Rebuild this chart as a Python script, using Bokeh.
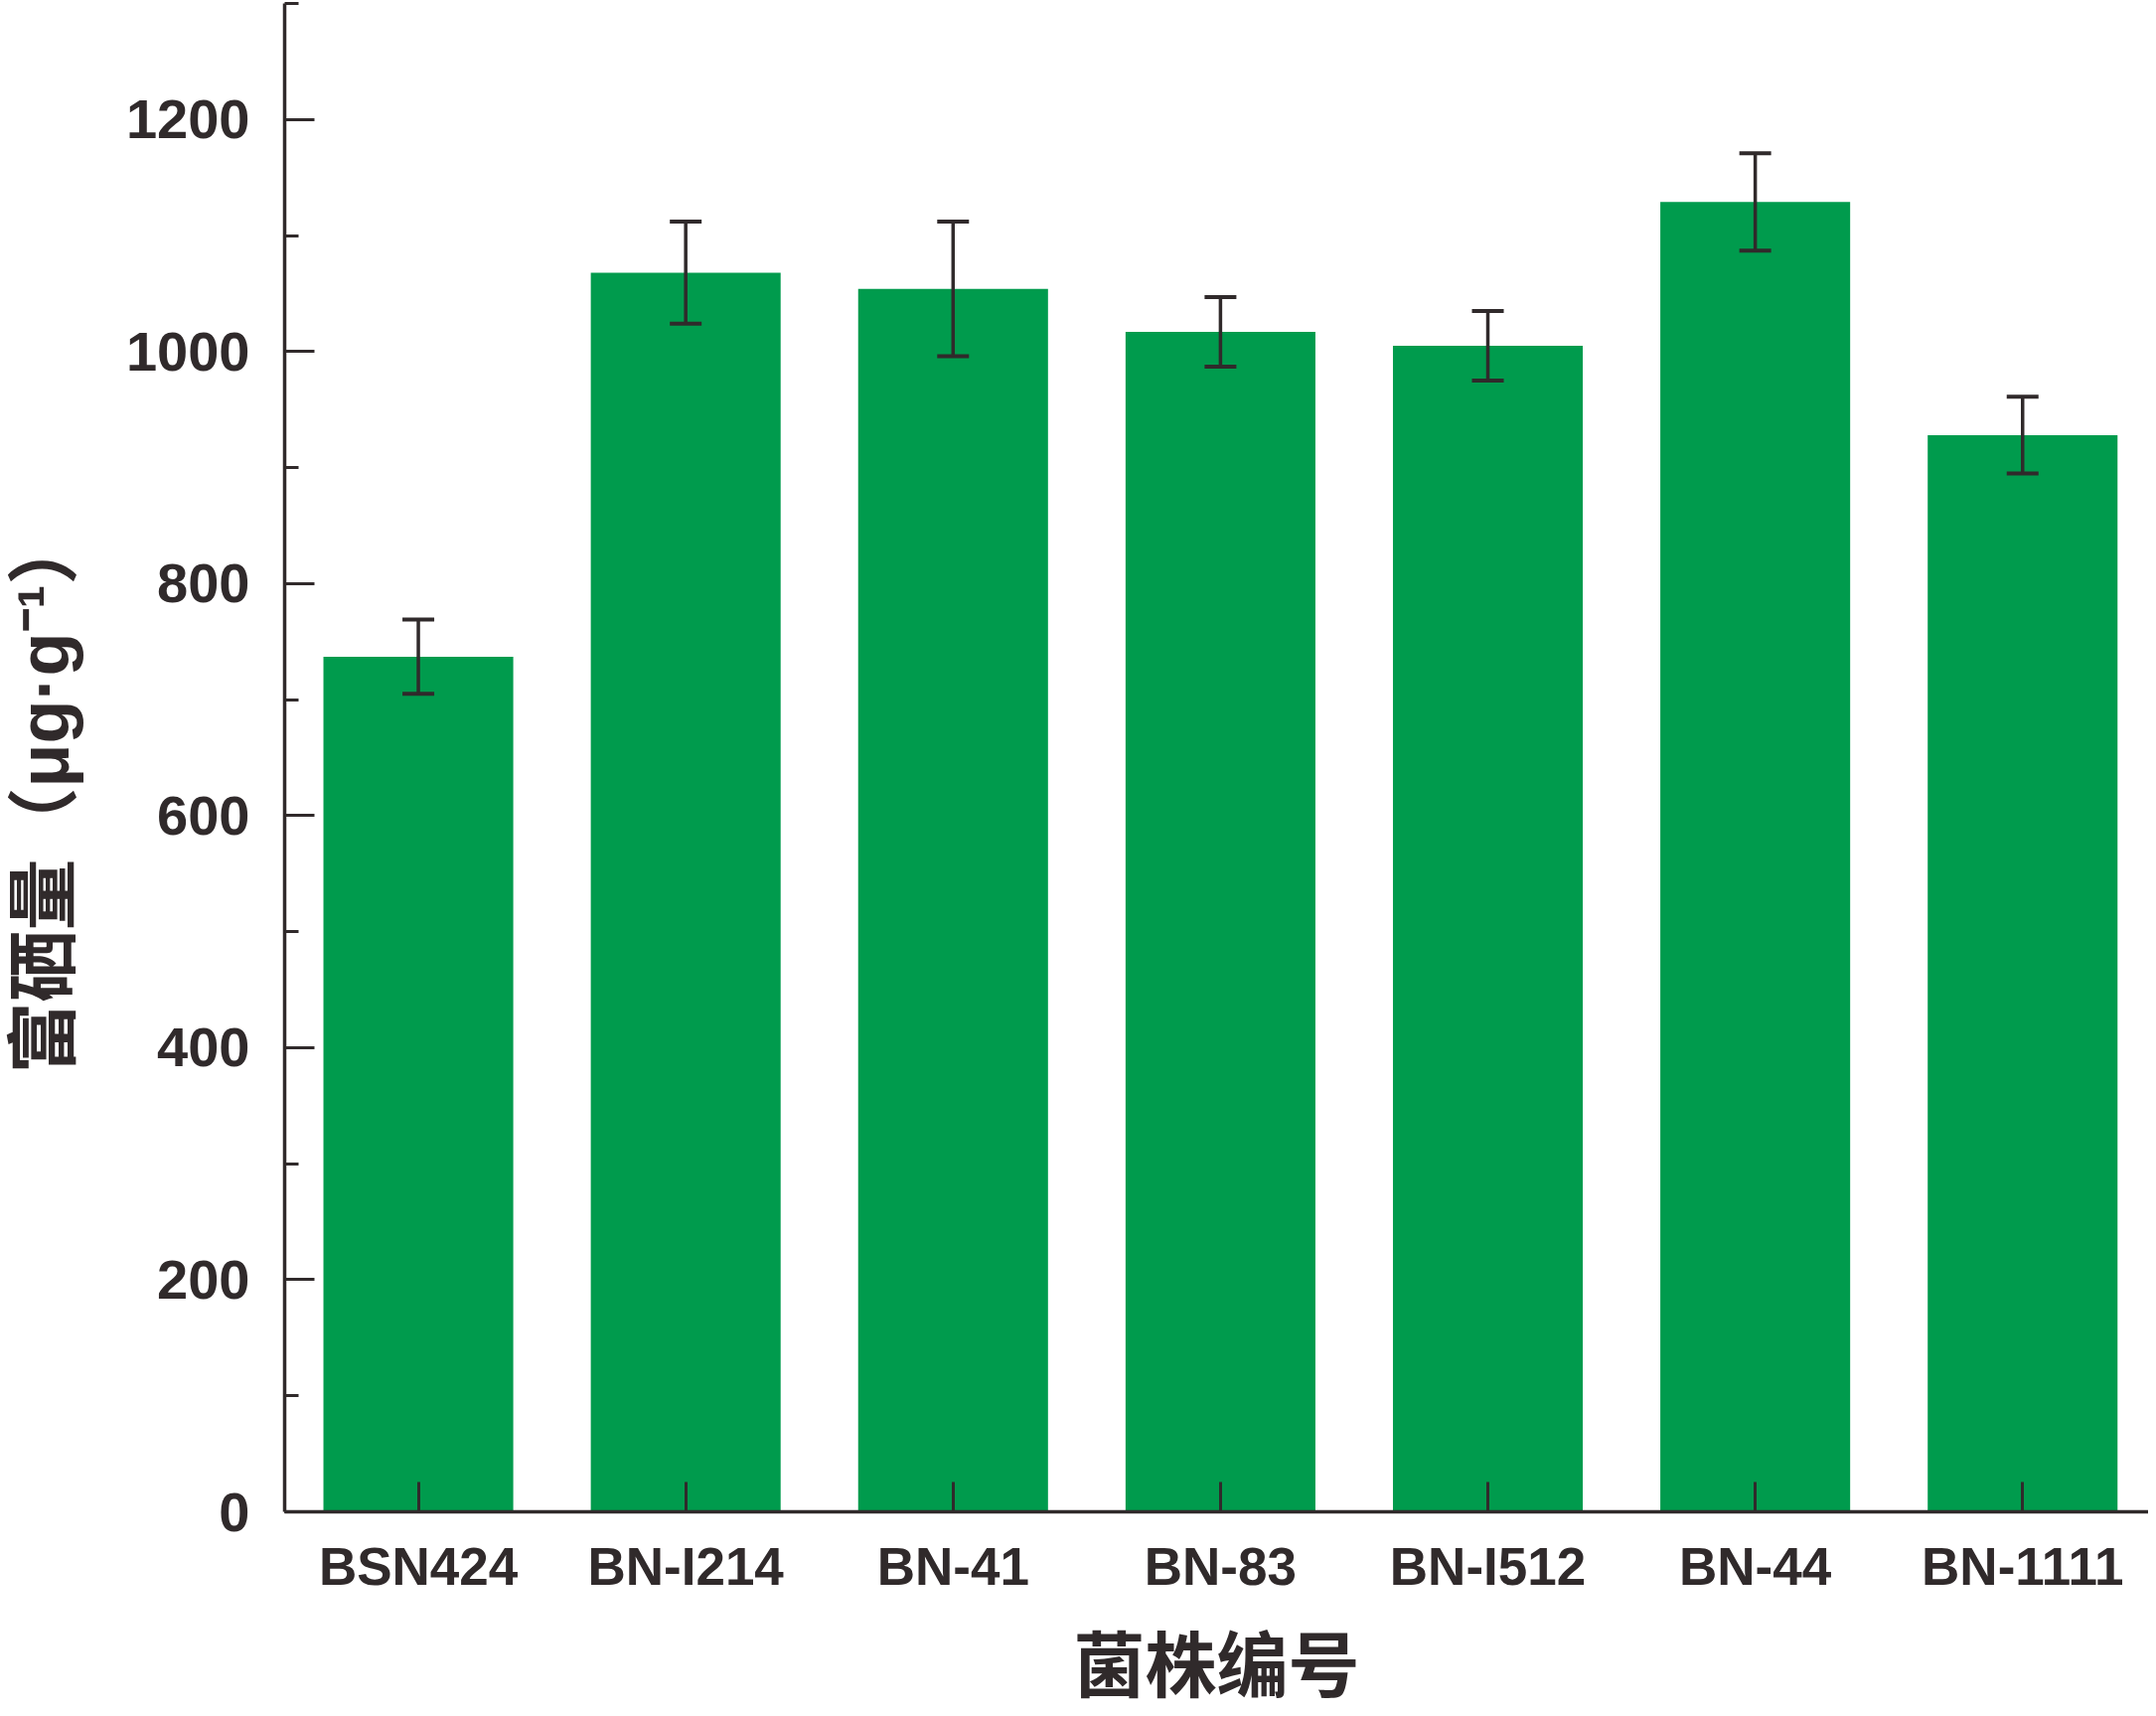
from bokeh.plotting import figure
from bokeh.models import (ColumnDataSource, Whisker, TeeHead, Range1d,
                          SingleIntervalTicker, FixedTicker)
from bokeh.embed import file_html
from bokeh.resources import INLINE

# ---- data ----
strains = ["BSN424", "BN-I214", "BN-41", "BN-83", "BN-I512", "BN-44", "BN-1111"]
se_content = [737, 1068, 1054, 1017, 1005, 1129, 928]
se_error = [32, 44, 58, 30, 30, 42, 33]
x_title = "菌株编号"
y_title = "富硒量（μg·g⁻¹）"

GREEN = "#009B4D"
INK = "#302A2B"
TITLE_FONT = "Liberation Sans, Noto Sans CJK SC"

xs = list(range(len(strains)))
src = ColumnDataSource(dict(
    x=xs,
    top=se_content,
    upper=[v + e for v, e in zip(se_content, se_error)],
    lower=[v - e for v, e in zip(se_content, se_error)],
))

p = figure(width=2162, height=1719, output_backend="svg", toolbar_location=None,
           x_range=Range1d(-0.5, 6.471), y_range=Range1d(0, 1300),
           min_border_left=284, min_border_right=0, min_border_top=3,
           min_border_bottom=198)
p.outline_line_color = None
p.grid.visible = False
p.background_fill_color = "white"
p.border_fill_color = "white"

p.vbar(x="x", top="top", width=0.71, source=src, fill_color=GREEN, line_color=None)

head_kw = dict(size=32, line_width=4, line_color=INK)
w = Whisker(base="x", upper="upper", lower="lower", source=src,
            upper_head=TeeHead(**head_kw), lower_head=TeeHead(**head_kw),
            line_width=3.5, line_color=INK, level="annotation")
p.add_layout(w)

# y axis
ya = p.yaxis[0]
ya.ticker = SingleIntervalTicker(interval=200, num_minor_ticks=2)
ya.axis_line_width = 3.5
ya.axis_line_color = INK
ya.major_tick_in = 30
ya.major_tick_out = 0
ya.minor_tick_in = 14
ya.minor_tick_out = 0
ya.major_tick_line_width = 3
ya.minor_tick_line_width = 3
ya.major_tick_line_color = INK
ya.minor_tick_line_color = INK
ya.major_label_text_font = "Liberation Sans"
ya.major_label_text_font_style = "bold"
ya.major_label_text_font_size = "56px"
ya.major_label_text_color = INK
ya.major_label_standoff = 35
ya.axis_label = y_title + "\u3000\u2002"
ya.axis_label_text_font = TITLE_FONT
ya.axis_label_text_font_style = "bold"
ya.axis_label_text_font_size = "72px"
ya.axis_label_text_color = INK
ya.axis_label_standoff = 40

# x axis
xa = p.xaxis[0]
xa.ticker = FixedTicker(ticks=xs)
xa.major_label_overrides = {i: s for i, s in zip(xs, strains)}
xa.axis_line_width = 3.5
xa.axis_line_color = INK
xa.major_tick_in = 30
xa.major_tick_out = 0
xa.minor_tick_line_color = None
xa.major_tick_line_width = 3
xa.major_tick_line_color = INK
xa.major_label_text_font = "Liberation Sans"
xa.major_label_text_font_style = "bold"
xa.major_label_text_font_size = "53px"
xa.major_label_text_color = INK
xa.major_label_standoff = 25
xa.axis_label = x_title
xa.axis_label_text_font = TITLE_FONT
xa.axis_label_text_font_style = "bold"
xa.axis_label_text_font_size = "72px"
xa.axis_label_text_color = INK
xa.axis_label_standoff = 28

open("out.html", "w").write(file_html(p, INLINE))
